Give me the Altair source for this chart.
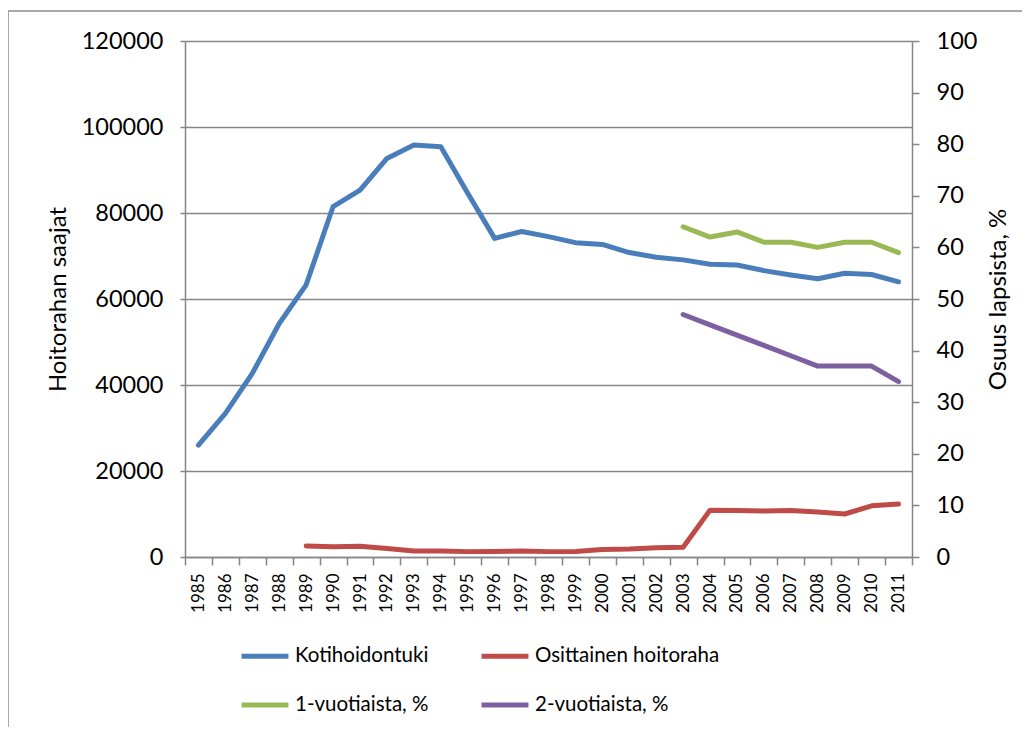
import altair as alt
import pandas as pd

years = list(range(1985, 2012))
koti = [26000, 33400, 42700, 54300, 63300, 81500, 85300, 92700, 95800, 95400,
        84600, 74100, 75700, 74500, 73100, 72700, 70800, 69700, 69100, 68100,
        67900, 66600, 65600, 64700, 66000, 65700, 64000]
osit_years = list(range(1989, 2012))
osit = [2560, 2400, 2500, 2000, 1400, 1400, 1250, 1300, 1400, 1250, 1300, 1750,
        1850, 2150, 2250, 10900, 10800, 10700, 10800, 10450, 10000, 11900, 12300]
pct_years = list(range(2003, 2012))
yksi = [64, 62, 63, 61, 61, 60, 61, 61, 59]
kaksi = [47, 45, 43, 41, 39, 37, 37, 37, 34]

names = ["Kotihoidontuki", "Osittainen hoitoraha", "1-vuotiaista, %", "2-vuotiaista, %"]
colors = ["#4A7EBB", "#BE4B48", "#98B954", "#7D60A0"]

rows = []
for y, v in zip(years, koti):
    rows.append({"year": y, "value": v, "series": names[0], "side": "left"})
for y, v in zip(osit_years, osit):
    rows.append({"year": y, "value": v, "series": names[1], "side": "left"})
for y, v in zip(pct_years, yksi):
    rows.append({"year": y, "value": v, "series": names[2], "side": "right"})
for y, v in zip(pct_years, kaksi):
    rows.append({"year": y, "value": v, "series": names[3], "side": "right"})
df = pd.DataFrame(rows)

FONT = "Lato"
GRID = "#868686"

half_ticks = [y - 0.5 for y in years] + [2011.5]
x_values = sorted(half_ticks + years)

x_enc = alt.X(
    "year:Q",
    scale=alt.Scale(domain=[1984.5, 2011.5], nice=False, zero=False),
    axis=alt.Axis(
        values=x_values,
        labelExpr="datum.value % 1 == 0 ? format(datum.value, 'd') : ''",
        labelAngle=-90,
        labelAlign="right",
        labelBaseline="middle",
        labelFontSize=17,
        labelPadding=8,
        labelOverlap=False,
        labelFlush=False,
        labelBound=False,
        tickSize=8,
        tickWidth=1.5,
        tickColor=GRID,
        tickOpacity={"condition": {"test": "datum.value % 1 == 0", "value": 0}, "value": 1},
        domainColor=GRID,
        domainWidth=1.5,
        grid=False,
        title=None,
    ),
)

color_enc = alt.Color(
    "series:N",
    scale=alt.Scale(domain=names, range=colors),
    sort=names,
    legend=alt.Legend(
        title=None,
        orient="none",
        legendX=54,
        legendY=589,
        columns=2,
        direction="horizontal",
        symbolType="stroke",
        symbolSize=2200,
        symbolStrokeWidth=5,
        labelFontSize=20.5,
        labelFont=FONT,
        labelLimit=400,
        labelOffset=4,
        columnPadding=42,
        rowPadding=12,
        padding=0,
    ),
)

left = alt.Chart(df).transform_filter(alt.datum.side == "left").mark_line(
    strokeWidth=5, strokeCap="round", strokeJoin="round"
).encode(
    x=x_enc,
    y=alt.Y(
        "value:Q",
        scale=alt.Scale(domain=[0, 120000], nice=False),
        axis=alt.Axis(
            orient="left",
            values=[0, 20000, 40000, 60000, 80000, 100000, 120000],
            format="d",
            title="Hoitorahan saajat",
            titleFontSize=24,
            titleFontWeight="normal",
            titlePadding=11,
            labelFontSize=23.5,
            labelPadding=17,
            tickSize=5,
            tickWidth=1.5,
            tickColor=GRID,
            domainColor=GRID,
            domainWidth=1.5,
            grid=True,
            gridColor=GRID,
            gridWidth=1.5,
        ),
    ),
    color=color_enc,
)

right = alt.Chart(df).transform_filter(alt.datum.side == "right").mark_line(
    strokeWidth=5, strokeCap="round", strokeJoin="round"
).encode(
    x=x_enc,
    y=alt.Y(
        "value:Q",
        scale=alt.Scale(domain=[0, 100], nice=False),
        axis=alt.Axis(
            orient="right",
            values=list(range(0, 101, 10)),
            title="Osuus lapsista, %",
            titleAngle=-90,
            titleFontSize=24,
            titleFontWeight="normal",
            titlePadding=34,
            labelFontSize=23.5,
            labelPadding=17,
            tickSize=7,
            tickWidth=1.5,
            tickColor=GRID,
            domainColor=GRID,
            domainWidth=1.5,
            grid=False,
        ),
    ),
    color=color_enc,
)

frame_data = alt.Data(values=[{"k": 1}])
frame_left = alt.Chart(frame_data).mark_rule(color="#8C8C8C", strokeWidth=1.5).encode(
    x=alt.value(-177), y=alt.value(-30), y2=alt.value(720)
)
frame_top = alt.Chart(frame_data).mark_rule(color="#8C8C8C", strokeWidth=1.5).encode(
    x=alt.value(-177), x2=alt.value(900), y=alt.value(-30)
)

chart = alt.layer(left, right, frame_left, frame_top).resolve_scale(
    y="independent"
).properties(
    width=727,
    height=516,
    autosize=alt.AutoSizeParams(type="none"),
    padding={"left": 177, "top": 33, "right": 110, "bottom": 170},
).configure(
    font=FONT,
).configure_axis(
    labelFont=FONT,
    titleFont=FONT,
    labelColor="black",
    titleColor="black",
).configure_view(stroke=None)

chart.save("out.html", embed_options={"renderer": "svg", "actions": False})
